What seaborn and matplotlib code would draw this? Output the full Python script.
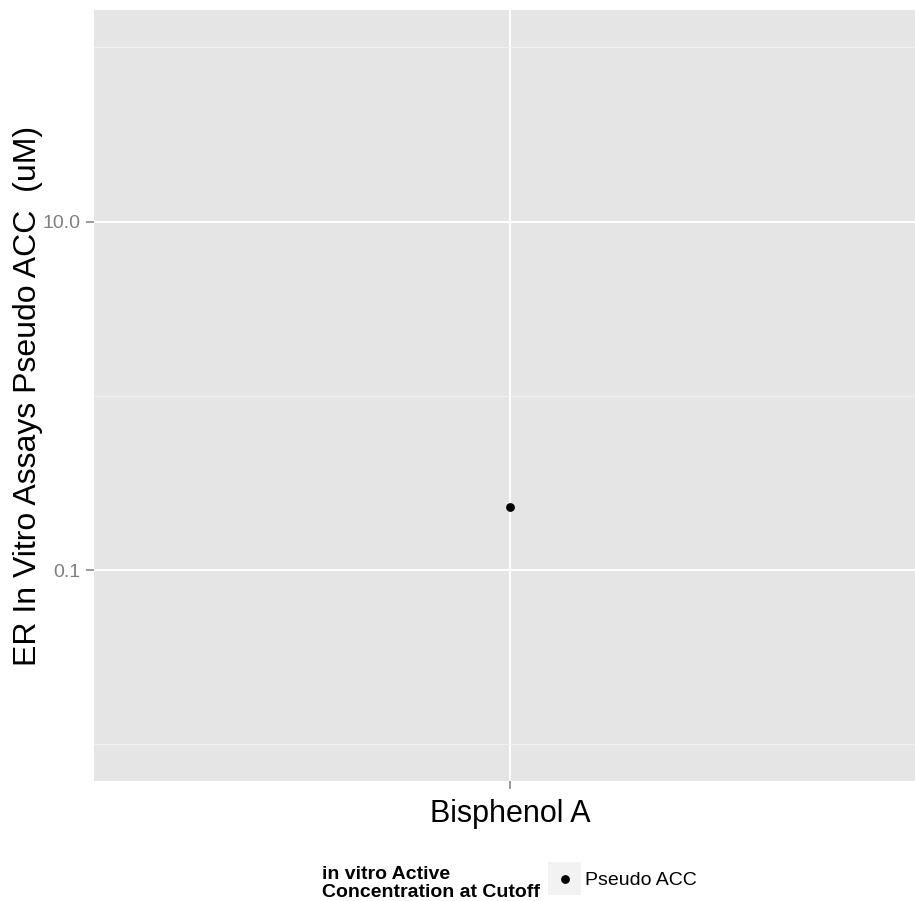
import pandas as pd
import seaborn as sns
import matplotlib.pyplot as plt
from matplotlib.patches import Rectangle
from matplotlib.ticker import NullFormatter

chemicals = ["Bisphenol A"]
pseudo_acc = [0.23]
acc_type = ["Pseudo ACC"]

y_ticks = [0.1, 10.0]
y_tick_labels = ["0.1", "10.0"]
y_minor = [0.01, 1.0, 100.0]

df = pd.DataFrame({"chemical": chemicals, "acc": pseudo_acc, "type": acc_type})

sns.set_theme(style="darkgrid", rc={"axes.facecolor": "#E5E5E5", "grid.color": "white",
                                    "text.color": "black"})
plt.rcParams["font.family"] = ["Liberation Sans", "DejaVu Sans"]

fig = plt.figure(figsize=(9.15, 9.01), dpi=100)
# panel runs a bit past the right edge, like the cropped original
ax = fig.add_axes([94 / 915, 1 - 781 / 901, (926 - 94) / 915, (781 - 10) / 901])

sns.scatterplot(data=df, x="chemical", y="acc", hue="type", palette=["black"],
                s=40, linewidth=0, ax=ax)

ax.set_yscale("log")
ax.set_ylim(0.00615, 164)
ax.set_xlim(-0.6, 0.6)
ax.set_yticks(y_ticks, y_tick_labels)
ax.set_yticks(y_minor, minor=True)
ax.yaxis.set_minor_formatter(NullFormatter())

ax.grid(which="major", color="white", linewidth=1.4)
ax.grid(which="minor", axis="y", color="#F2F2F2", linewidth=0.7)
ax.tick_params(which="minor", length=0)
ax.tick_params(which="major", bottom=True, left=True, length=6, width=1.1, color="#7F7F7F")
ax.tick_params(axis="y", labelsize=14, labelcolor="#7F7F7F", pad=4)
ax.tick_params(axis="x", labelsize=22, labelcolor="black", pad=7)
for s in ax.spines.values():
    s.set_visible(False)

ax.set_xlabel("")
ax.set_ylabel("ER In Vitro Assays Pseudo ACC  (uM)", fontsize=23, color="black")
ax.yaxis.set_label_coords((43 - 94) / 832, 0.5)

# legend at the bottom, title to the left of the key
h, l = ax.get_legend_handles_labels()
ax.get_legend().remove()
fig.add_artist(Rectangle((548 / 915, 1 - 895 / 901), 33 / 915, 33 / 901,
                         transform=fig.transFigure, facecolor="#F2F2F2",
                         edgecolor="none", zorder=1))
fig.legend(h, l, loc="center left", bbox_to_anchor=(548 / 915, 1 - 880.5 / 901),
           frameon=False, fontsize=14, handlelength=33 / 19.4, handletextpad=0.2,
           borderpad=0, borderaxespad=0, labelcolor="black")
fig.text(322 / 915, 1 - 866 / 901, "in vitro Active\nConcentration at Cutoff",
         fontsize=14, fontweight="bold", color="black", ha="left", va="top",
         linespacing=1.05)

fig.savefig("out.png", dpi=100)
